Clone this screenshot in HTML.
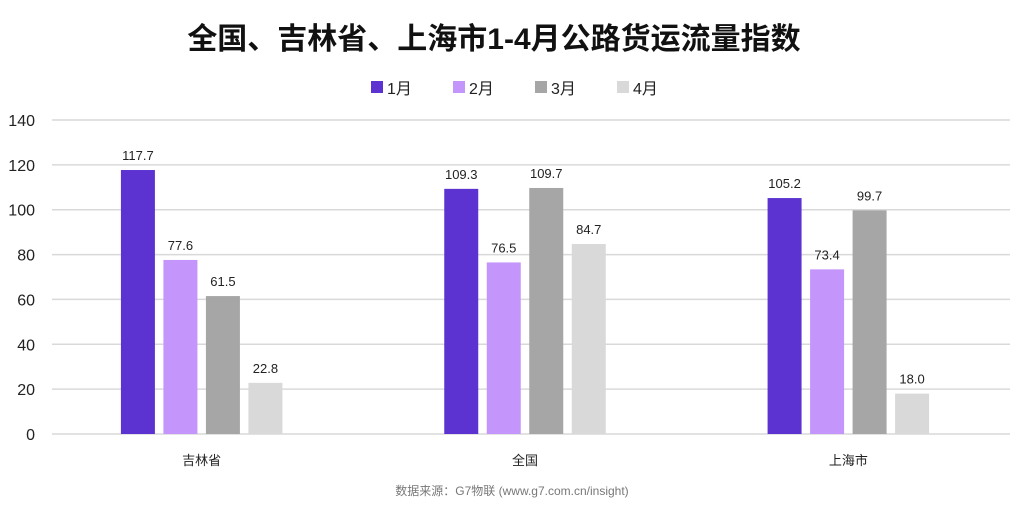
<!DOCTYPE html>
<html><head><meta charset="utf-8"><style>
body{margin:0;background:#fff;width:1024px;height:516px;overflow:hidden;font-family:"Liberation Sans","Noto Sans CJK SC",sans-serif}
</style></head><body>
<svg id="c" width="1024" height="516" xmlns="http://www.w3.org/2000/svg" font-family="Liberation Sans, Noto Sans CJK SC, sans-serif">
<text x="494" y="49" text-anchor="middle" font-size="30" font-weight="bold" fill="#111">全国、吉林省、上海市1-4月公路货运流量指数</text>
<g id="legend"></g>
<g id="grid"></g>
<g id="bars"></g>
<text x="512" y="495" text-anchor="middle" font-size="12" fill="#777">数据来源：G7物联 (www.g7.com.cn/insight)</text>
</svg>
<script>
const categories=["吉林省","全国","上海市"];
const seriesNames=["1月","2月","3月","4月"];
const m1=[117.7,109.3,105.2];
const m2=[77.6,76.5,73.4];
const m3=[61.5,109.7,99.7];
const m4=[22.8,84.7,18.0];
const yTicks=[0,20,40,60,80,100,120,140];
const series=[m1,m2,m3,m4];
const colors=["#5c33d1","#c495fb","#a6a6a6","#d9d9d9"];
const NS="http://www.w3.org/2000/svg";
const y0=434,yTop=120,yMax=140;
const y=v=>y0-(v/yMax)*(y0-yTop);
const left=40,right=1010,gw=(right-left)/categories.length;
const bw=34,step=42.5;
const x=(ci,si)=>left+gw*(ci+0.5)+(si-1.5)*step-bw/2;
function mk(t,a,p){const e=document.createElementNS(NS,t);for(const k in a)e.setAttribute(k,a[k]);p.appendChild(e);return e;}
const grid=document.getElementById('grid');
yTicks.forEach(v=>{
 const l=mk('line',{x1:left+12,x2:right,y1:y(v),y2:y(v),stroke:'#d9d9d9','stroke-width':1.5},grid);
 
 
 const t=mk('text',{x:35,y:y(v)+6,'text-anchor':'end','font-size':16,fill:'#222'},grid);
 t.textContent=v;
 
 
});
const bars=document.getElementById('bars');
categories.forEach((c,ci)=>{
 series.forEach((s,si)=>{
  const r=mk('rect',{x:x(ci,si),y:y(s[ci]),width:bw,height:y0-y(s[ci]),fill:colors[si]},bars);
  
  
  const t=mk('text',{x:x(ci,si)+bw/2,y:y(s[ci])-10,'text-anchor':'middle','font-size':13,fill:'#222'},bars);
  t.textContent=s[ci].toFixed(1);
  
  
 });
 const t=mk('text',{x:left+gw*(ci+0.5),y:465,'text-anchor':'middle','font-size':13,fill:'#222'},bars);
 t.textContent=c;
 
 
});
const lg=document.getElementById('legend');
const lx=[371,453,535,617];
seriesNames.forEach((n,i)=>{
 const r=mk('rect',{x:lx[i],y:81,width:12,height:12,fill:colors[i]},lg);
 
 
 const t=mk('text',{x:lx[i]+16,y:94,'font-size':16,fill:'#222'},lg);
 t.textContent=n;
 
 
});
</script>
</body></html>
